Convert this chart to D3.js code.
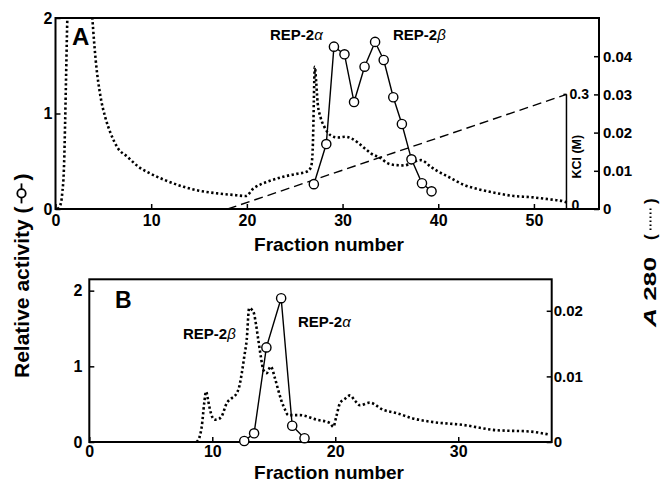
<!DOCTYPE html>
<html><head><meta charset="utf-8">
<script src="https://cdn.jsdelivr.net/npm/d3@7"></script>
<style>
body{margin:0;background:#fff;}
svg text{font-family:"Liberation Sans",Arial,Helvetica,sans-serif;font-weight:bold;fill:#000;}
</style></head><body>
<svg id="chart" width="661" height="483"></svg>
<script>
// ---------- DATA ----------
// Panel A: relative activity (circles)
const fracA = [27.0, 28.3, 29.1, 30.2, 31.2, 32.3, 33.4, 34.3, 35.3, 36.2, 37.2, 38.3, 39.3];
const activityA = [0.26, 0.68, 1.70, 1.62, 1.12, 1.49, 1.75, 1.56, 1.17, 0.89, 0.52, 0.27, 0.185];
// Panel A: A280 (dotted)
const a280FracA = [0.2,0.5,0.7,0.9,1.0,1.1,1.2,1.35,2.5,3.6,3.85,4.2,4.7,5.2,5.75,6.5,7.5,8.7,9.9,11.5,13.4,15,16.9,18.5,19.9,20.7,21.4,22.1,23.9,25.2,26.3,26.7,26.85,26.95,27.0,27.1,27.25,27.4,27.7,28.1,28.8,29.5,30.3,30.9,31.6,32.3,33,34,34.7,35.5,36.5,37.1,38.2,39.2,40,41,42.7,44.5,46.2,47.9,49.7,51.4,53.2,53.6];
const a280A = [0,0.001,0.004,0.012,0.022,0.034,0.046,0.06,0.09,0.06,0.05,0.039,0.0295,0.024,0.0199,0.016,0.0137,0.011,0.0093,0.0075,0.0058,0.0048,0.0041,0.0037,0.0034,0.0054,0.0064,0.0071,0.0085,0.0092,0.0098,0.011,0.014,0.022,0.0285,0.0372,0.033,0.0277,0.024,0.0215,0.0192,0.0187,0.0189,0.0185,0.0174,0.0159,0.0145,0.0133,0.012,0.0115,0.0114,0.012,0.0128,0.0111,0.0098,0.0085,0.0063,0.005,0.0041,0.0034,0.0031,0.0026,0.0019,0.0015];
// Panel A: KCl gradient (dashed)
const kclFrac = [18, 53.4];
const kclConc = [0, 0.3];
// Panel B: relative activity (circles)
const fracB = [12.6, 13.4, 14.4, 15.6, 16.5, 17.5];
const activityB = [0.013, 0.115, 1.25, 1.90, 0.215, 0.05];
// Panel B: A280 (dotted)
const a280FracB = [8.73,9.0,9.14,9.35,9.49,9.65,9.76,10.0,10.2,10.5,10.76,11.17,11.6,11.98,12.2,12.4,12.6,12.8,13.0,13.2,13.39,13.55,13.74,13.95,14.15,14.42,14.75,15.1,15.35,15.6,15.9,16.18,17.1,18.5,19.57,19.84,20.1,20.38,20.8,21.2,21.6,22.0,22.8,23.9,25,26.3,27.7,30.4,33.1,35.8,37.45];
const a280B = [0,0.001,0.0023,0.006,0.0077,0.0065,0.0054,0.0038,0.0034,0.0035,0.0039,0.0059,0.0067,0.0074,0.0085,0.0105,0.013,0.0156,0.0204,0.0202,0.0196,0.018,0.0156,0.013,0.011,0.0105,0.0115,0.0097,0.008,0.0064,0.005,0.0041,0.0041,0.0034,0.0029,0.0023,0.004,0.0059,0.0066,0.0071,0.0063,0.0056,0.006,0.0049,0.0044,0.0036,0.0031,0.0026,0.0018,0.0016,0.0011];
// Ticks
const xTicksA = [0,10,20,30,40,50];
const yTicksLeftA = [0,1,2];
const yTicksRightA = [0,0.01,0.02,0.03,0.04];
const kclTicks = [0,0.3];
const xTicksB = [0,10,20,30];
const yTicksLeftB = [0,1,2];
const yTicksRightB = [0,0.01,0.02];

// ---------- LAYOUT ----------
const svg = d3.select("#chart");
svg.append("rect").attr("width",661).attr("height",483).attr("fill","#fff");
const PA = {left:55.5, right:599, top:18, bottom:209};
const PB = {left:89.3, right:551.7, top:279.3, bottom:442};

const xA = d3.scaleLinear().domain([0,56.8]).range([PA.left,PA.right]);
const yA = d3.scaleLinear().domain([0,2]).range([PA.bottom,PA.top]);
const rA = d3.scaleLinear().domain([0,0.05]).range([PA.bottom,PA.top]);
const kA = d3.scaleLinear().domain([0,0.5]).range([PA.bottom,PA.top]);

const xB = d3.scaleLinear().domain([0,37.6]).range([PB.left,PB.right]);
const yB = d3.scaleLinear().domain([0,2.15]).range([PB.bottom,PB.top]);
const rB = d3.scaleLinear().domain([0,0.0248]).range([PB.bottom,PB.top]);

const fmt = d => d === 0 ? "0" : String(d);

function styleAxis(g, fs){
  g.attr("font-size", fs).attr("font-family", null);
  g.select(".domain").remove();
  g.selectAll(".tick line").attr("stroke","#000").attr("stroke-width",1.5);
}

function panel(id, P, x, y, r, xt, ylt, yrt, padX, padL, padR, fsR){
  const g = svg.append("g").attr("id", id);
  svg.append("clipPath").attr("id","clip"+id)
    .append("rect").attr("x",P.left).attr("y",P.top).attr("width",P.right-P.left).attr("height",P.bottom-P.top);
  g.append("g").attr("transform",`translate(0,${P.bottom})`)
    .call(d3.axisBottom(x).tickValues(xt).tickSize(-5).tickPadding(padX).tickFormat(fmt))
    .call(a=>styleAxis(a,16));
  g.append("g").attr("transform",`translate(${P.left},0)`)
    .call(d3.axisLeft(y).tickValues(ylt).tickSize(-5).tickPadding(padL).tickFormat(fmt))
    .call(a=>styleAxis(a,16));
  g.append("g").attr("transform",`translate(${P.right},0)`)
    .call(d3.axisRight(r).tickValues(yrt).tickSize(-5).tickPadding(padR).tickFormat(fmt))
    .call(a=>styleAxis(a,fsR));
  g.append("rect").attr("x",P.left).attr("y",P.top).attr("width",P.right-P.left).attr("height",P.bottom-P.top)
    .attr("fill","none").attr("stroke","#000").attr("stroke-width",2);
  return g;
}

function drawDotted(g, id, fr, vals, x, r){
  g.append("path").datum(fr.map((f,i)=>[f,vals[i]]))
    .attr("clip-path",`url(#clip${id})`)
    .attr("fill","none").attr("stroke","#000").attr("stroke-width",2.6)
    .attr("stroke-dasharray","2.3,2.5")
    .attr("d", d3.line().x(d=>x(d[0])).y(d=>r(d[1])).curve(d3.curveMonotoneX));
}
function drawActivity(g, fr, vals, x, y){
  const pts = fr.map((f,i)=>[f,vals[i]]);
  g.append("path").datum(pts).attr("fill","none").attr("stroke","#000").attr("stroke-width",1.4)
    .attr("d", d3.line().x(d=>x(d[0])).y(d=>y(d[1])));
  g.selectAll("circle.pt").data(pts).enter().append("circle").attr("class","pt")
    .attr("cx",d=>x(d[0])).attr("cy",d=>y(d[1])).attr("r",4.6)
    .attr("fill","#fff").attr("stroke","#000").attr("stroke-width",1.4);
}

// ---------- PANEL A ----------
const gA = panel("A", PA, xA, yA, rA, xTicksA, yTicksLeftA, yTicksRightA, 6, 3, 4, 15);
drawDotted(gA, "A", a280FracA, a280A, xA, rA);
// KCl gradient
gA.append("path").datum(kclFrac.map((f,i)=>[f,kclConc[i]]))
  .attr("fill","none").attr("stroke","#000").attr("stroke-width",1.4).attr("stroke-dasharray","9,5")
  .attr("d", d3.line().x(d=>xA(d[0])).y(d=>kA(d[1])));
// KCl axis
const kx = xA(kclFrac[kclFrac.length-1]);
gA.append("line").attr("x1",kx).attr("x2",kx).attr("y1",kA(0)).attr("y2",kA(d3.max(kclTicks)))
  .attr("stroke","#000").attr("stroke-width",1.5);
gA.append("line").attr("x1",kx-3).attr("x2",kx).attr("y1",kA(d3.max(kclTicks))).attr("y2",kA(d3.max(kclTicks)))
  .attr("stroke","#000").attr("stroke-width",1.5);
gA.selectAll("text.kcl").data(kclTicks).enter().append("text").attr("class","kcl")
  .attr("x", d=> d===0 ? kx+5 : kx+3).attr("y", d=> d===0 ? kA(d)-4 : kA(d)).attr("dy","0.35em")
  .attr("font-size",14).text(fmt);
gA.append("text").attr("transform",`translate(${kx+15},${kA(0.15)+5}) rotate(-90)`)
  .attr("text-anchor","middle").attr("font-size",12.5).text("KCl (M)");
drawActivity(gA, fracA, activityA, xA, yA);
gA.append("text").attr("x",72).attr("y",45).attr("font-size",24).text("A");
const labA1 = gA.append("text").attr("x",270).attr("y",40).attr("font-size",15);
labA1.append("tspan").text("REP-2");
labA1.append("tspan").attr("font-style","italic").attr("font-weight","normal").text("α");
const labA2 = gA.append("text").attr("x",393).attr("y",40).attr("font-size",15);
labA2.append("tspan").text("REP-2");
labA2.append("tspan").attr("font-style","italic").attr("font-weight","normal").text("β");
svg.append("text").attr("x",329).attr("y",251).attr("text-anchor","middle").attr("font-size",19).text("Fraction number");

// ---------- PANEL B ----------
const gB = panel("B", PB, xB, yB, rB, xTicksB, yTicksLeftB, yTicksRightB, 4, 7, 2, 15);
drawDotted(gB, "B", a280FracB, a280B, xB, rB);
drawActivity(gB, fracB, activityB, xB, yB);
gB.append("text").attr("x",115).attr("y",308).attr("font-size",23).text("B");
const labB1 = gB.append("text").attr("x",183).attr("y",339).attr("font-size",15);
labB1.append("tspan").text("REP-2");
labB1.append("tspan").attr("font-style","italic").attr("font-weight","normal").text("β");
const labB2 = gB.append("text").attr("x",298).attr("y",327).attr("font-size",15);
labB2.append("tspan").text("REP-2");
labB2.append("tspan").attr("font-style","italic").attr("font-weight","normal").text("α");
svg.append("text").attr("x",329).attr("y",479).attr("text-anchor","middle").attr("font-size",19).text("Fraction number");

// ---------- OUTER Y LABELS ----------
const gl = svg.append("g").attr("transform","translate(29,378) rotate(-90)");
const t1 = gl.append("text").attr("x",0).attr("y",0).attr("font-size",21).text("Relative activity (");
const L = t1.node().getComputedTextLength();
gl.append("line").attr("x1",L+3).attr("x2",L+23).attr("y1",-7.5).attr("y2",-7.5).attr("stroke","#000").attr("stroke-width",1.8);
gl.append("circle").attr("cx",L+13).attr("cy",-7.5).attr("r",4.2).attr("fill","#fff").attr("stroke","#000").attr("stroke-width",1.8);
gl.append("text").attr("x",L+26).attr("y",0).attr("font-size",21).text(")");

const gr = svg.append("g").attr("transform","translate(656,327) rotate(-90)");
const tr = gr.append("text").attr("x",0).attr("y",0).attr("font-size",17).attr("textLength",70).attr("lengthAdjust","spacingAndGlyphs");
tr.append("tspan").attr("font-style","italic").text("A");
tr.append("tspan").text(" 280");
const gr2 = svg.append("g").attr("transform","translate(656,327) rotate(-90)");
gr2.append("text").attr("x",87).attr("y",0).attr("font-size",17).text("(");
gr2.append("line").attr("x1",97).attr("x2",121).attr("y1",-5.5).attr("y2",-5.5)
  .attr("stroke","#000").attr("stroke-width",2).attr("stroke-dasharray","1.6,2.4");
gr2.append("text").attr("x",123).attr("y",0).attr("font-size",17).text(")");
</script></body></html>
